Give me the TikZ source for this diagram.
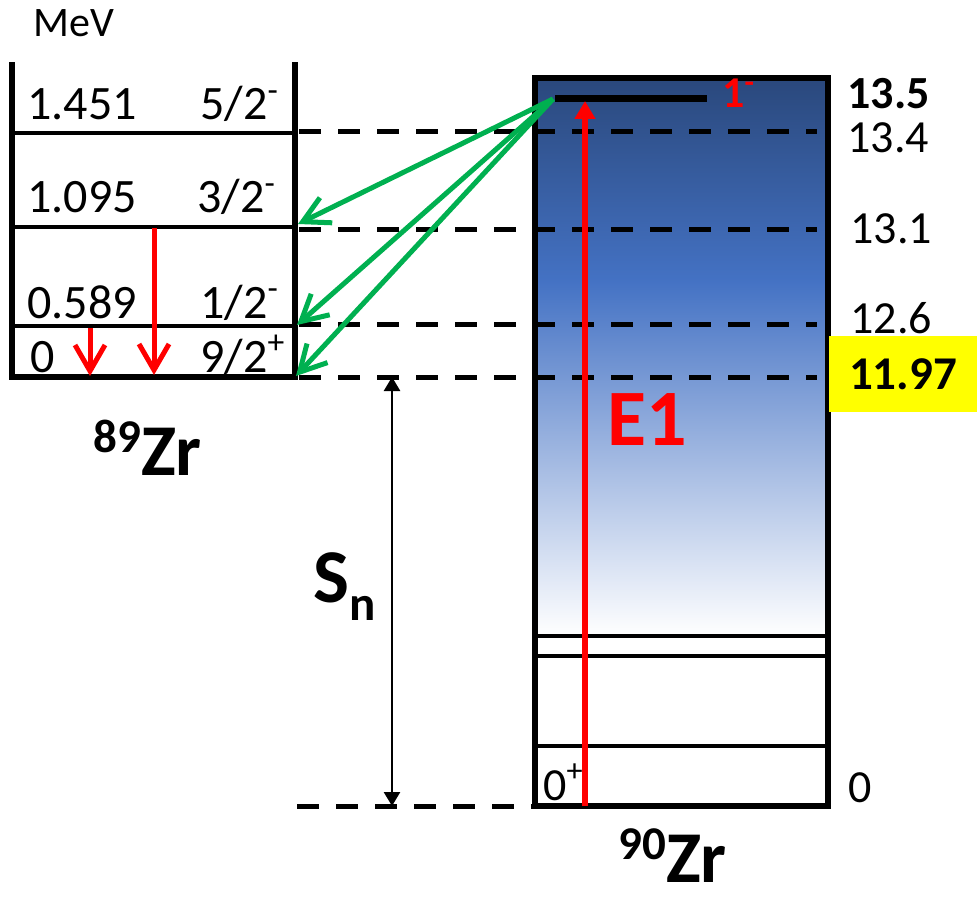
\documentclass[tikz,border=0pt]{standalone}
\usepackage{fontspec}
\setmainfont{Carlito}
\usepackage{xcolor}
\usepackage{tikz}
\usetikzlibrary{arrows.meta,positioning}
\definecolor{zrnavy}{RGB}{42,72,124}
\definecolor{zrblue}{RGB}{68,114,196}
\definecolor{gamgreen}{RGB}{0,176,80}
\definecolor{snyellow}{RGB}{255,255,0}

\begin{document}
\begin{tikzpicture}[x=0.5pt, y=-0.5pt,
  lvl/.style={line width=1.8pt},
  zrframe/.style={line width=2.8pt, line cap=rect},
  dlvl/.style={line width=2.5pt, dash pattern=on 11pt off 8.5pt},
  redgam/.style={red, line width=2.5pt, -{Straight Barb[length=13pt,width=15pt]}},
  greengam/.style={gamgreen, line width=2.5pt, -{Straight Barb[length=13pt,width=14pt]}},
  num/.style={inner sep=0pt, anchor=base west, font=\fontsize{24}{28}\selectfont},
  rnum/.style={inner sep=0pt, anchor=base west, font=\fontsize{23}{27}\selectfont},
  iso/.style={inner sep=0pt, anchor=base west, font=\fontsize{36.5}{40}\selectfont\bfseries}]
  \useasboundingbox (0,0) rectangle (977,898);
  % 90Zr continuum, dark blue on top fading to white
  \shade[top color=zrnavy, bottom color=zrblue] (535,78) rectangle (828,282);
  \shade[top color=zrblue, bottom color=white] (535,281) rectangle (828,636);
  % low-lying levels of 90Zr and levels of 89Zr
  \foreach \ly in {636,656,746}
    \draw[lvl] (535,\ly) -- (828,\ly);
  \foreach \ly in {133,227,326}
    \draw[lvl] (12,\ly) -- (295,\ly);
  \draw[zrframe] (12,65) -- (12,377) -- (295,377) -- (295,65);
  \draw[zrframe] (535,78) rectangle (828,806);
  % neutron channels and threshold
  \foreach \ly in {132,230,324,377}
    \draw[dlvl] (299,\ly) -- (817,\ly);
  \draw[dlvl] (297,806) -- (535,806);
  % the 1- state
  \draw[line width=3.5pt] (555,99) -- (707,99);

  \coordinate (res) at (553,99);
  \coordinate (f32) at (298,224);
  \coordinate (f12) at (297,325);
  \coordinate (f92) at (296,376);
  \coordinate (gs) at (585,806);
  \coordinate (gtop) at (585,101);
  \coordinate (thr) at (392,377);
  \coordinate (thrlow) at (392,806);
  \coordinate (s12) at (90,328);
  \coordinate (s12e) at (90,376);
  \coordinate (s32) at (154,228);
  \coordinate (s32e) at (154,375);

  \draw[red, line width=3pt, -{Triangle[length=9pt,width=10pt]}] (gs) -- (gtop);
  \foreach \f in {f32,f12,f92}
    \draw[greengam] (res) -- (\f);
  \draw[redgam] (s12) -- (s12e);
  \draw[redgam] (s32) -- (s32e);
  \draw[line width=1.3pt, {Triangle[length=7pt,width=8pt]}-{Triangle[length=7pt,width=8pt]}] (thr) -- (thrlow);

  % 89Zr labels
  \node[inner sep=0pt, anchor=base west, font=\fontsize{21}{24}\selectfont] (mev) at (33,37) {MeV};
  \node[num] (e1451) at (27,120) {1.451};
  \node[num] (j52) at (200,120) {5/2\textsuperscript{-}};
  \node[num] (e1095) at (27,213) {1.095};
  \node[num] (j32) at (197,213) {3/2\textsuperscript{-}};
  \node[num] (e0589) at (27,318) {0.589};
  \node[num] (j12) at (200,318) {1/2\textsuperscript{-}};
  \node[num] (e0) at (30,372) {0};
  \node[num] (j92) at (200,372) {9/2\textsuperscript{+}};
  \node[iso] (zr89) at (93,475) {{\fontsize{23.5}{24}\selectfont\raisebox{11.5pt}{89}}Zr};

  % 90Zr labels
  \node[inner sep=0pt, anchor=base west, red, font=\fontsize{22}{26}\selectfont\bfseries] (jres) at (722,108) {1\textsuperscript{-}};
  \node[rnum, font=\fontsize{23}{27}\selectfont\bfseries] (eres) at (847,109) {13.5};
  \node[rnum] (e134) at (847,153) {13.4};
  \node[rnum] (e131) at (850,243) {13.1};
  \node[rnum] (e126) at (850,333) {12.6};
  \node[fill=snyellow, inner sep=0pt, minimum width=74pt, minimum height=38pt,
        font=\fontsize{23.5}{27}\selectfont\bfseries] (sn) at (903,374) {11.97};
  \node[rnum] (egs) at (848,802) {0};
  \node[rnum] (jgs) at (543,800) {0\textsuperscript{+}};
  \node[inner sep=0pt, anchor=base west, red, font=\fontsize{40}{44}\selectfont\bfseries] (e1) at (607,445) {E1};
  \node[inner sep=0pt, anchor=base west, font=\fontsize{38}{42}\selectfont\bfseries] (snlbl) at (313,602) {S{\fontsize{24.5}{26}\selectfont\raisebox{-9pt}{n}}};
  \node[iso] (zr90) at (618,882) {{\fontsize{23.5}{24}\selectfont\raisebox{11.5pt}{90}}Zr};
\end{tikzpicture}
\end{document}
